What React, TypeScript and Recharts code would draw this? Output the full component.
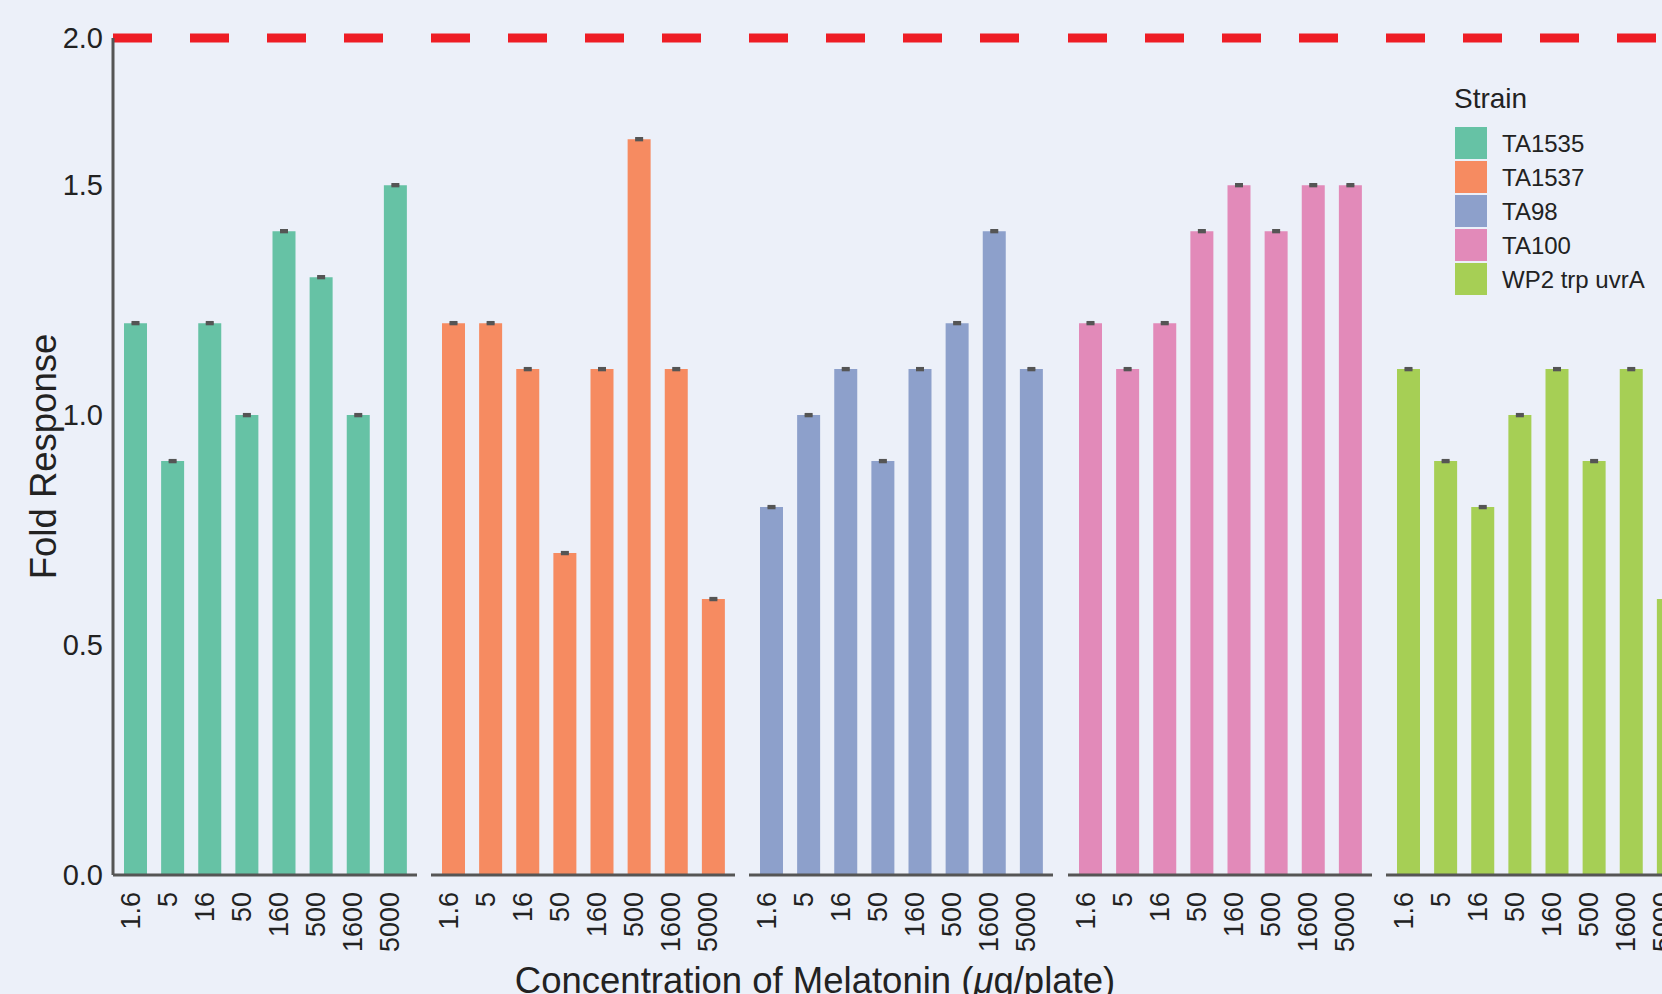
import { Bar, BarChart, ErrorBar, ReferenceLine, XAxis, YAxis } from "recharts";

const doses = ["1.6", "5", "16", "50", "160", "500", "1600", "5000"];
const strains = ["TA1535", "TA1537", "TA98", "TA100", "WP2 trp uvrA"];
const strainColors = ["#66C2A5", "#F68B61", "#8DA0CB", "#E28AB9", "#A6CF55"];

const ta1535 = [1.2, 0.9, 1.2, 1.0, 1.4, 1.3, 1.0, 1.5];
const ta1537 = [1.2, 1.2, 1.1, 0.7, 1.1, 1.6, 1.1, 0.6];
const ta98 = [0.8, 1.0, 1.1, 0.9, 1.1, 1.2, 1.4, 1.1];
const ta100 = [1.2, 1.1, 1.2, 1.4, 1.5, 1.4, 1.5, 1.5];
const wp2 = [1.1, 0.9, 0.8, 1.0, 1.1, 0.9, 1.1, 0.6];
const strainValues = [ta1535, ta1537, ta98, ta100, wp2];

// tiny standard errors, the caps barely show
const foldErr = [0.002, 0.002, 0.002, 0.002, 0.002, 0.002, 0.002, 0.002];

// in the figure the 2-fold line is drawn at the top of the plotted range
const threshold = 1.82;
const yTicks = [0, 0.5, 1.0, 1.5, threshold];
const yTickLabels = ["0.0", "0.5", "1.0", "1.5", "2.0"];

const BG = "#ECF0F9";
const INK = "#222";
const AXIS = "#555";
const FONT = '"Liberation Sans", Arial, Helvetica, sans-serif';

const H = 994;
const TOP = 38;
const BASE = 875;
const AXIS_W = 113;
const PANEL_W = 304;
const STEP = 318.2;

function DoseTick(props: any) {
  const { x, y, payload } = props;
  const ty = y + 17;
  return (
    <text
      x={x}
      y={ty}
      dy={4}
      transform={`rotate(-90, ${x}, ${ty})`}
      textAnchor="end"
      fontSize={27}
      fill={INK}
    >
      {payload.value}
    </text>
  );
}

function Facet({ values, color, index }: { values: number[]; color: string; index: number }) {
  const first = index === 0;
  const data = doses.map((d, i) => ({ dose: d, fold: values[i], err: foldErr[i] }));
  const left = first ? 0 : AXIS_W + STEP * index;

  return (
    <div style={{ position: "absolute", left, top: 0 }}>
      <BarChart
        width={(first ? AXIS_W : 0) + PANEL_W}
        height={H}
        data={data}
        margin={{ top: TOP, right: 0, bottom: 0, left: 0 }}
      >
        <XAxis
          dataKey="dose"
          interval={0}
          height={H - BASE}
          tickLine={false}
          tickSize={0}
          tickMargin={0}
          axisLine={{ stroke: AXIS, strokeWidth: 3 }}
          tick={(p: any) => <DoseTick {...p} />}
          padding={{ left: 4, right: 3 }}
        />
        <YAxis
          hide={!first}
          width={first ? AXIS_W : 0}
          domain={[0, threshold]}
          ticks={yTicks}
          tickFormatter={(v: number) => yTickLabels[yTicks.indexOf(v)]}
          tickLine={false}
          tickSize={0}
          tickMargin={10}
          axisLine={{ stroke: AXIS, strokeWidth: 3 }}
          tick={{ fontSize: 29, fill: INK }}
          label={{
            value: "Fold Response",
            angle: -90,
            position: "insideLeft",
            offset: 43,
            fontSize: 36.5,
            fill: INK,
            style: { textAnchor: "middle" },
          }}
        />
        <ReferenceLine y={threshold} stroke="#EE1D25" strokeWidth={9} strokeDasharray="39 38" />
        <Bar dataKey="fold" fill={color} barSize={23} isAnimationActive={false}>
          <ErrorBar dataKey="err" width={4} stroke={AXIS} strokeWidth={2.5} isAnimationActive={false} />
        </Bar>
      </BarChart>
    </div>
  );
}

export default function App() {
  return (
    <div
      style={{
        position: "fixed",
        left: 0,
        top: 0,
        width: 1662,
        height: 994,
        overflow: "hidden",
        background: BG,
        fontFamily: FONT,
      }}
    >
      {strainValues.map((vals, i) => (
        <Facet key={strains[i]} values={vals} color={strainColors[i]} index={i} />
      ))}
      <svg
        width={1662}
        height={994}
        style={{ position: "absolute", left: 0, top: 0, pointerEvents: "none" }}
      >
        <text x={815} y={993} textAnchor="middle" fontSize={36.5} fill={INK}>
          Concentration of Melatonin (<tspan fontStyle="italic">μ</tspan>g/plate)
        </text>
        <text x={1454} y={108} fontSize={28} fill={INK}>
          Strain
        </text>
        {strains.map((s, i) => (
          <g key={s}>
            <rect x={1455} y={127 + 34 * i} width={32} height={32} fill={strainColors[i]} />
            <text x={1502} y={143 + 34 * i} dy={8.5} fontSize={24} fill={INK}>
              {s}
            </text>
          </g>
        ))}
      </svg>
    </div>
  );
}
